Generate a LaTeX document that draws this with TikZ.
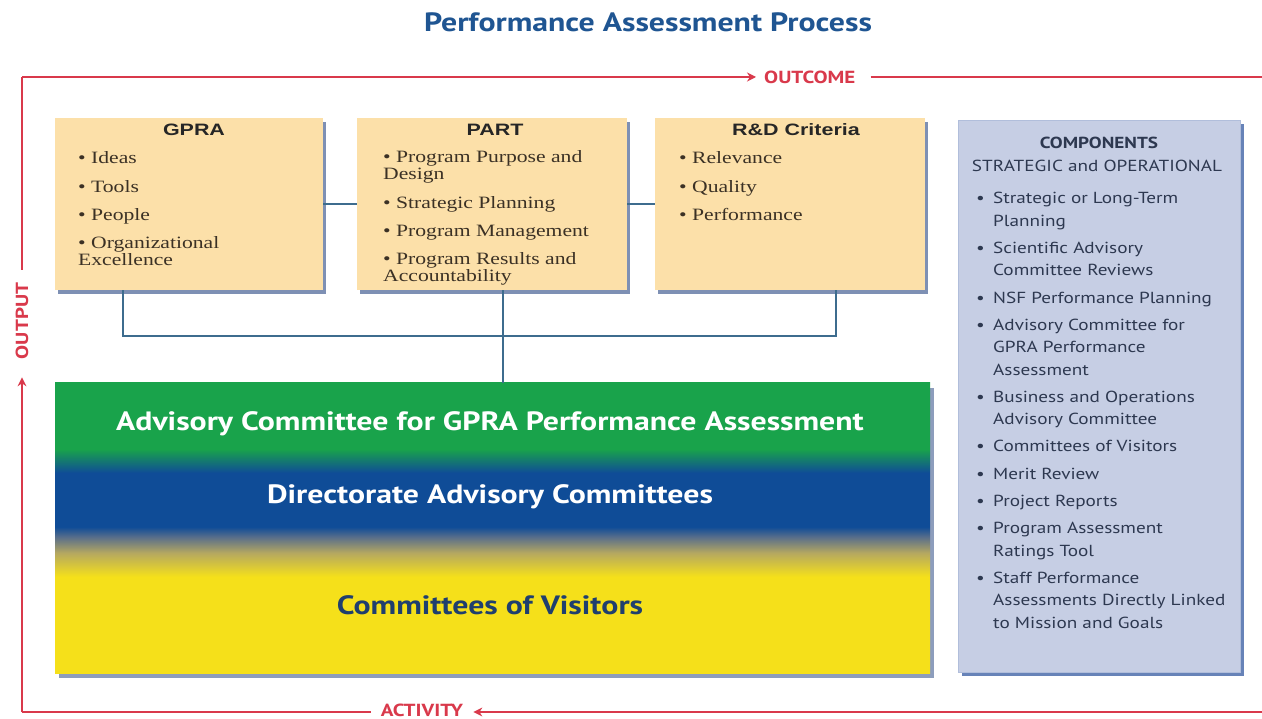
\documentclass[tikz,border=0pt]{standalone}
\usepackage{fontspec}
\setmainfont[FakeStretch=1.25]{Liberation Serif}
\newfontfamily\arialfont[FakeStretch=1.3]{Liberation Sans}
\newfontfamily\ptfont[FakeStretch=1.2]{PT Sans}
\usetikzlibrary{shadows,arrows.meta,calc}
\definecolor{tanfill}{HTML}{FCE0A9}
\definecolor{tanshadow}{HTML}{7185AC}
\definecolor{compfill}{HTML}{C6CEE4}
\definecolor{compshadow}{HTML}{5F7DB5}
\definecolor{connc}{HTML}{3D6C8E}
\definecolor{framered}{HTML}{D9394B}
\definecolor{titleblue}{HTML}{1F5592}
\definecolor{itemc}{HTML}{3B3125}
\definecolor{compc}{HTML}{2D3850}
\definecolor{cyel}{HTML}{F5E01A}
\definecolor{ckhaki}{HTML}{B5A860}
\definecolor{cgrayblue}{HTML}{5A6F8A}
\definecolor{cblue}{HTML}{0F4C97}
\definecolor{cgreen}{HTML}{19A34B}
\definecolor{cvisit}{HTML}{1F3F6E}
\pgfdeclareverticalshading{bigshade}{100bp}{color(0bp)=(cyel); color(41.6bp)=(cyel); color(45.7bp)=(ckhaki); color(48.4bp)=(cgrayblue); color(50.2bp)=(cblue); color(59.5bp)=(cblue); color(63.6bp)=(cgreen); color(100bp)=(cgreen)}
\tikzset{
  tanbox/.style={fill=tanfill, draw=none, inner sep=0pt,
    drop shadow={shadow xshift=3pt, shadow yshift=-4pt, fill=tanshadow, opacity=0.9}},
  compbox/.style={fill=compfill, draw=compfill!80!compshadow, line width=0.8pt, inner sep=0pt,
    drop shadow={shadow xshift=4pt, shadow yshift=-4pt, fill=compshadow, opacity=0.95}},
  bigbox/.style={shading=bigshade, draw=none, inner sep=0pt,
    drop shadow={shadow xshift=4pt, shadow yshift=-5pt, fill=tanshadow, opacity=0.8}},
  boxtitle/.style={font=\arialfont\bfseries\fontsize{16.5}{17}\selectfont, text=black!85, inner sep=0pt, anchor=base},
  items/.style={font=\fontsize{17.3}{17}\selectfont, text=itemc, inner sep=0pt, anchor=base west},
  complist/.style={font=\ptfont\fontsize{16}{22.3}\selectfont, text=compc, inner sep=0pt, anchor=base west},
  conn/.style={draw=connc, line width=1.5pt},
  frame/.style={draw=framered, line width=1.5pt},
  redlabel/.style={font=\ptfont\bfseries\fontsize{17.5}{18}\selectfont, text=framered, inner sep=0pt},
  bigtext/.style={font=\ptfont\bfseries\fontsize{26.5}{27}\selectfont, inner sep=0pt},
  tip/.style={-{Stealth[length=9pt,width=9pt]}}
}
\newcommand{\bl}{\makebox[17pt][l]{\textbullet}}
\newcommand{\ind}{\hspace*{17pt}}
\begin{document}
\begin{tikzpicture}[x=1pt,y=-1pt]
\useasboundingbox (0,0) rectangle (1262,719);
\fill[white] (0,0) rectangle (1262,719);

% title
\node[font=\ptfont\bfseries\fontsize{26.5}{27}\selectfont, text=titleblue, inner sep=0pt] (title) at (648,22) {Performance Assessment Process};

% frame
\coordinate (tl) at (22,77);
\coordinate (tr) at (1262,77);
\coordinate (bl) at (22,712);
\coordinate (br) at (1262,712);
\node[redlabel, anchor=west] (outcome) at (764,77) {OUTCOME};
\node[redlabel, anchor=center] (activity) at (422,710) {ACTIVITY};
\node[redlabel, rotate=90, anchor=center] (output) at (22,321) {OUTPUT};
\draw[frame, tip] (tl) -- ([xshift=-8pt]outcome.west);
\draw[frame] ([xshift=15pt]outcome.east) -- (tr);
\draw[frame, tip] (br) -- ([xshift=10pt]activity.east |- br);
\draw[frame] ([xshift=-10pt]activity.west |- bl) -- (bl);
\draw[frame, tip] (bl) -- ([yshift=-18pt]output.west);
\draw[frame] ([yshift=13pt]output.east) -- (tl);

% tan boxes
\node[tanbox, minimum width=268pt, minimum height=172pt] (gpra) at (189,204) {};
\node[tanbox, minimum width=270pt, minimum height=172pt] (part) at (492,204) {};
\node[tanbox, minimum width=270pt, minimum height=172pt] (rd) at (790,204) {};

\node[boxtitle] (gpraT) at (194,136) {GPRA};
\node[boxtitle] (partT) at (495,136) {PART};
\node[boxtitle] (rdT) at (796,136) {R\&D Criteria};

\node[items] (gpraL) at (78,164) {\begin{tabular}[t]{@{}l@{}}
\textbullet\ Ideas\\[11pt]
\textbullet\ Tools\\[11pt]
\textbullet\ People\\[11pt]
\textbullet\ Organizational\\
Excellence
\end{tabular}};
\node[items] (partL) at (383,163) {\begin{tabular}[t]{@{}l@{}}
\textbullet\ Program Purpose and\\
Design\\[11pt]
\textbullet\ Strategic Planning\\[11pt]
\textbullet\ Program Management\\[11pt]
\textbullet\ Program Results and\\
Accountability
\end{tabular}};
\node[items] (rdL) at (679,164) {\begin{tabular}[t]{@{}l@{}}
\textbullet\ Relevance\\[11pt]
\textbullet\ Quality\\[11pt]
\textbullet\ Performance
\end{tabular}};

% connectors
\draw[conn] (gpra.east) -- (part.west);
\draw[conn] (part.east) -- (rd.west);

% big box
\node[bigbox, minimum width=875pt, minimum height=290pt] (big) at (492.5,528) {};
\draw[conn] ($(gpra.south west)+(68,0)$) |- ($(rd.south west)+(181,46)$) -- ($(rd.south west)+(181,0)$);
\draw[conn] ([xshift=11pt]part.south) -- ([xshift=11pt]part.south |- big.north);

\node[bigtext, text=white] (acg) at (490,424) {Advisory Committee for GPRA Performance Assessment};
\node[bigtext, text=white] (dac) at (490,497) {Directorate Advisory Committees};
\node[bigtext, text=cvisit] (cov) at (490,605) {Committees of Visitors};

% components
\node[compbox, minimum width=282pt, minimum height=552pt] (comp) at (1099,396) {};
\node[font=\ptfont\bfseries\fontsize{16}{17}\selectfont, text=compc, inner sep=0pt, anchor=base] (compT) at (1099,149) {COMPONENTS};
\node[font=\ptfont\fontsize{16}{17}\selectfont, text=compc, inner sep=0pt, anchor=base] (compS) at (1097,172) {STRATEGIC and OPERATIONAL};
\node[complist] (compL) at (976,204) {\begin{tabular}[t]{@{}l@{}}
\bl Strategic or Long-Term\\
\ind Planning\\[5pt]
\bl Scientific Advisory\\
\ind Committee Reviews\\[5pt]
\bl NSF Performance Planning\\[5pt]
\bl Advisory Committee for\\
\ind GPRA Performance\\
\ind Assessment\\[5pt]
\bl Business and Operations\\
\ind Advisory Committee\\[5pt]
\bl Committees of Visitors\\[5pt]
\bl Merit Review\\[5pt]
\bl Project Reports\\[5pt]
\bl Program Assessment\\
\ind Ratings Tool\\[5pt]
\bl Staff Performance\\
\ind Assessments Directly Linked\\
\ind to Mission and Goals
\end{tabular}};
\end{tikzpicture}
\end{document}
